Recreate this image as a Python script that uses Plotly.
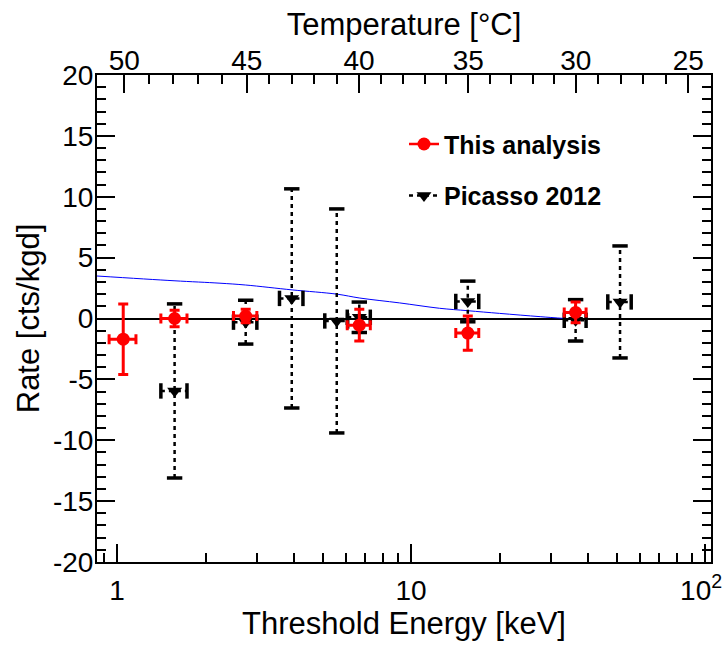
import numpy as np
import plotly.graph_objects as go

# ---------------- data ----------------
energy_this = [1.05, 1.57, 2.74, 6.67, 15.6, 36.3]
energy_err_this = [0.11, 0.16, 0.25, 0.6, 1.4, 3.1]
rate_this = [-1.7, 0.0, 0.2, -0.55, -1.2, 0.5]
rate_err_this = [2.9, 0.68, 0.55, 1.3, 1.4, 0.85]

energy_pic = [1.57, 2.74, 3.93, 5.59, 6.67, 15.6, 36.3, 51.4]
energy_err_pic = [0.16, 0.25, 0.36, 0.5, 0.6, 1.4, 3.1, 4.7]
rate_pic = [-5.95, -0.3, 1.65, -0.2, 0.1, 1.4, -0.15, 1.36]
rate_err_pic = [7.15, 1.8, 9.0, 9.2, 1.25, 1.67, 1.7, 4.6]

curve_energy = [0.855, 1.563, 2.24, 2.74, 3.94, 5.6, 6.7, 9.15, 12.5, 15.6, 20.0, 27.5, 33.3]
curve_rate = [3.49, 3.1, 2.9, 2.75, 2.35, 2.0, 1.68, 1.28, 0.84, 0.64, 0.42, 0.15, 0.0]

energy_ticks = [1, 10, 100]
energy_tick_labels = ["1", "10", "10<sup>2</sup>\u00a0"]
energy_minor = [0.9, 2, 3, 4, 5, 6, 7, 8, 9, 20, 30, 40, 50, 60, 70, 80, 90]

temp_ticks = [50, 45, 40, 35, 30, 25]
temp_tick_energy = [1.059, 2.762, 6.655, 15.66, 36.33, 87.74]

rate_ticks = [-20, -15, -10, -5, 0, 5, 10, 15, 20]
rate_tick_labels = ["-20", "-15", "-10", "-5", "0", "5", "10", "15", "20"]

x_range = [0.855, 104.8]
y_range = [-20, 20]

# ---------------- helpers ----------------
FONT = "Liberation Sans, Arial, Helvetica, sans-serif"
log_range = [np.log10(x_range[0]), np.log10(x_range[1])]

# minor temperature ticks (every 1 degree) placed between major ticks
t_inc = np.array(temp_ticks[::-1], dtype=float)
le_inc = np.log10(np.array(temp_tick_energy[::-1]))
temp_minor_T = [t for t in range(26, 50) if t % 5 != 0]
temp_minor_energy = [10 ** np.interp(t, t_inc, le_inc) for t in temp_minor_T]

fig = go.Figure()

# blue curve
fig.add_trace(go.Scatter(x=curve_energy, y=curve_rate, mode="lines",
                         line=dict(color="#0000ff", width=1, shape="spline"),
                         showlegend=False, hoverinfo="skip"))

# Picasso 2012: dashed error bars
vx, vy, hx, hy = [], [], [], []
for e, ex, r, er in zip(energy_pic, energy_err_pic, rate_pic, rate_err_pic):
    vx += [e, e, None]
    vy += [r - er, r + er, None]
    hx += [e - ex, e + ex, None]
    hy += [r, r, None]
fig.add_trace(go.Scatter(x=vx + hx, y=vy + hy, mode="lines",
                         line=dict(color="black", width=2.5, dash="4px,4px"),
                         showlegend=False, hoverinfo="skip"))
# caps
cap_vx = energy_pic + energy_pic
cap_vy = [r - er for r, er in zip(rate_pic, rate_err_pic)] + \
         [r + er for r, er in zip(rate_pic, rate_err_pic)]
fig.add_trace(go.Scatter(x=cap_vx, y=cap_vy, mode="markers",
                         marker=dict(symbol="line-ew", size=11,
                                     line=dict(color="black", width=3.5)),
                         showlegend=False, hoverinfo="skip"))
cap_hx = [e - ex for e, ex in zip(energy_pic, energy_err_pic)] + \
         [e + ex for e, ex in zip(energy_pic, energy_err_pic)]
cap_hy = rate_pic + rate_pic
fig.add_trace(go.Scatter(x=cap_hx, y=cap_hy, mode="markers",
                         marker=dict(symbol="line-ns", size=11,
                                     line=dict(color="black", width=3.5)),
                         showlegend=False, hoverinfo="skip"))
fig.add_trace(go.Scatter(x=energy_pic, y=rate_pic, mode="markers",
                         marker=dict(symbol="triangle-down", size=13, color="black"),
                         showlegend=False))

# This analysis
fig.add_trace(go.Scatter(x=energy_this, y=rate_this, mode="markers",
                         marker=dict(symbol="circle", size=13, color="#ff0000"),
                         error_y=dict(type="data", array=rate_err_this, color="#ff0000",
                                      thickness=3, width=5),
                         error_x=dict(type="data", array=energy_err_this, color="#ff0000",
                                      thickness=3, width=5),
                         showlegend=False))

# legend entries (attached to the top temperature axis so that it is drawn)
fig.add_trace(go.Scatter(x=[None], y=[None], mode="lines+markers", name="This analysis",
                         line=dict(color="#ff0000", width=2.5),
                         marker=dict(symbol="circle", size=13, color="#ff0000"),
                         legendgroup="a", xaxis="x2", yaxis="y"))
fig.add_trace(go.Scatter(x=[None], y=[None], mode="lines+markers", name="Picasso 2012",
                         line=dict(color="black", width=2.5, dash="4px,4px"),
                         marker=dict(symbol="triangle-down", size=13, color="black"),
                         legendgroup="b", xaxis="x2", yaxis="y"))

tick_font = dict(family=FONT, size=28, color="black")
title_font = dict(family=FONT, size=31, color="black")

fig.update_layout(
    width=724, height=648,
    margin=dict(l=97, r=13, t=75, b=86, autoexpand=False),
    paper_bgcolor="white", plot_bgcolor="white",
    font=dict(family=FONT, color="black"),
    showlegend=True,
    legend=dict(x=0.50, y=0.905, xanchor="left", yanchor="top",
                bgcolor="rgba(0,0,0,0)", borderwidth=0,
                font=dict(family=FONT, size=25, color="black", weight="bold"),
                traceorder="grouped", tracegroupgap=16, itemwidth=30),
    xaxis=dict(type="log", range=log_range, automargin=False,
               tickmode="array", tickvals=energy_ticks, ticktext=energy_tick_labels,
               ticks="inside", ticklen=18, tickwidth=1.5, tickcolor="black",
               minor=dict(tickmode="array", tickvals=energy_minor, ticks="inside",
                          ticklen=9, tickwidth=1.5, tickcolor="black", showgrid=False),
               showline=True, linecolor="black", linewidth=2, mirror=False,
               showgrid=False, zeroline=False,
               tickfont=tick_font, ticklabelstandoff=2, ticklabeloverflow="allow",
               title=dict(text="Threshold Energy [keV]", font=title_font, standoff=0)),
    xaxis2=dict(type="log", range=log_range, overlaying="x", side="top", anchor="y",
                automargin=False,
                tickmode="array", tickvals=temp_tick_energy,
                ticktext=[str(t) for t in temp_ticks],
                ticks="inside", ticklen=18, tickwidth=1.5, tickcolor="black",
                minor=dict(tickmode="array", tickvals=temp_minor_energy, ticks="inside",
                           ticklen=9, tickwidth=1.5, tickcolor="black", showgrid=False),
                showline=True, linecolor="black", linewidth=2,
                showgrid=False, zeroline=False,
                tickfont=tick_font, ticklabelstandoff=-8, ticklabeloverflow="allow",
                title=dict(text="Temperature [°C]", font=title_font, standoff=0)),
    yaxis=dict(range=y_range, automargin=False,
               tickmode="array", tickvals=rate_ticks, ticktext=rate_tick_labels,
               ticks="inside", ticklen=18, tickwidth=1.5, tickcolor="black",
               minor=dict(dtick=1, tick0=0, ticks="inside", ticklen=9, tickwidth=1.5,
                          tickcolor="black", showgrid=False),
               showline=True, linecolor="black", linewidth=2, mirror="ticks",
               showgrid=False, zeroline=True, zerolinecolor="black", zerolinewidth=1.5,
               tickfont=tick_font, ticklabelstandoff=-4,
               title=dict(text="Rate [cts/kgd]", font=title_font, standoff=4)),
)

fig.write_html("out.html", config={"displayModeBar": False},
               post_script="document.body.style.margin='0';")
